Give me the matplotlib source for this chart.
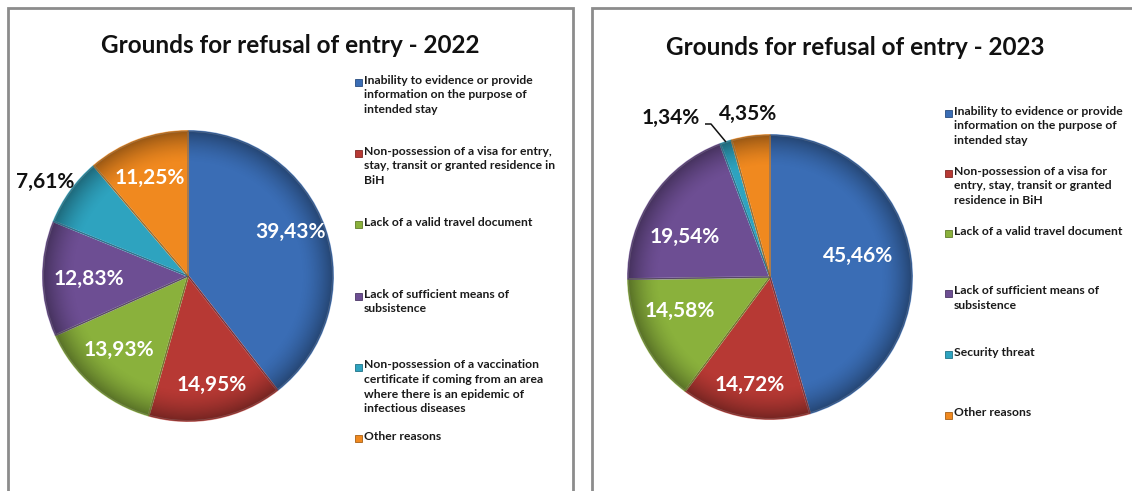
import numpy as np
import matplotlib
matplotlib.use("Agg")
import matplotlib.pyplot as plt
from matplotlib.patches import Rectangle, Circle, Wedge
from matplotlib.colors import to_rgb

W, H = 1132, 491

categories_2022 = [
    "Inability to evidence or provide\ninformation on the purpose of\nintended stay",
    "Non-possession of a visa for entry,\nstay, transit or granted residence in\nBiH",
    "Lack of a valid travel document",
    "Lack of sufficient means of\nsubsistence",
    "Non-possession of a vaccination\ncertificate if coming from an area\nwhere there is an epidemic of\ninfectious diseases",
    "Other reasons",
]
values_2022 = [39.43, 14.95, 13.93, 12.83, 7.61, 11.25]

categories_2023 = [
    "Inability to evidence or provide\ninformation on the purpose of\nintended stay",
    "Non-possession of a visa for\nentry, stay, transit or granted\nresidence in BiH",
    "Lack of a valid travel document",
    "Lack of sufficient means of\nsubsistence",
    "Security threat",
    "Other reasons",
]
values_2023 = [45.46, 14.72, 14.58, 19.54, 1.34, 4.35]

colors = ["#3a6db5", "#b73934", "#8ab13c", "#6d4e93", "#2ea3bf", "#f0891f"]

FONT = "Lato"
plt.rcParams["font.family"] = [FONT, "DejaVu Sans"]

fig = plt.figure(figsize=(W / 100, H / 100), dpi=100)
ax = fig.add_axes([0, 0, 1, 1])
ax.set_xlim(0, W)
ax.set_ylim(0, H)
ax.set_aspect("equal")
ax.axis("off")


def py(y):
    return H - y


def fmt(v):
    return f"{v:.2f}%".replace(".", ",")


def shaded_pie(values, center, radius):
    wedges, _ = ax.pie(values, colors=colors, startangle=90, counterclock=False,
                       center=center, radius=radius, frame=True,
                       wedgeprops=dict(edgecolor="none", linewidth=0))
    # bevel: lighter inner outline on each slice
    for w, c in zip(wedges, colors):
        rgb = np.array(to_rgb(c))
        w.set_edgecolor(tuple(rgb + (1 - rgb) * 0.35))
        w.set_linewidth(1.4)
        w.set_joinstyle("round")
    # radial shading: darker towards the rim
    n = 400
    xs = np.linspace(-1, 1, n)
    X, Y = np.meshgrid(xs, xs)
    R = np.sqrt(X ** 2 + Y ** 2)
    img = np.zeros((n, n, 4))
    img[..., 3] = np.clip((R - 0.78) / 0.22, 0, 1) ** 1.6 * 0.36
    cx, cy = center
    im = ax.imshow(img, extent=(cx - radius, cx + radius, cy - radius, cy + radius),
                   origin="lower", interpolation="bilinear", zorder=3)
    im.set_clip_path(Circle(center, radius, transform=ax.transData))
    # thin darker separators
    for w, c in zip(wedges, colors):
        dark = tuple(np.array(to_rgb(c)) * 0.75)
        ax.add_patch(Wedge(w.center, w.r, w.theta1, w.theta2, facecolor="none",
                           edgecolor=dark, linewidth=0.6, zorder=4))
    ax.set_xlim(0, W)
    ax.set_ylim(0, H)
    ax.axis("off")
    return wedges


def legend(labels, x, ys, fs=8.7):
    for lab, c, y in zip(labels, colors, ys):
        dark = tuple(np.array(to_rgb(c)) * 0.7)
        ax.add_patch(Rectangle((x - 9, py(y) - 3.5), 7, 7, facecolor=c,
                               edgecolor=dark, linewidth=0.6, zorder=5))
        ax.text(x, py(y) + 7.5, lab, fontsize=fs, fontweight="bold",
                color="#1a1a1a", va="top", ha="left", linespacing=1.4, zorder=5)


# panel frames
ax.add_patch(Rectangle((7.5, -5), 565, py(7.5) + 5, facecolor="none",
                       edgecolor="#8c8c8c", linewidth=2, zorder=1))
ax.add_patch(Rectangle((592, -5), 560, py(7.5) + 5, facecolor="none",
                       edgecolor="#8c8c8c", linewidth=2, zorder=1))

# ---- 2022 ----
ax.text(290, py(45), "Grounds for refusal of entry - 2022", fontsize=17.5,
        fontweight="bold", ha="center", va="center", color="#111111")
shaded_pie(values_2022, (188, py(276)), 145)
pos_2022 = [(290, 232), (212, 385), (119, 350), (89, 279), (45, 182), (150, 178)]
txtcol_2022 = ["white", "white", "white", "white", "#111111", "white"]
for v, (x, y), tc in zip(values_2022, pos_2022, txtcol_2022):
    ax.text(x, py(y), fmt(v), fontsize=15, fontweight="bold", color=tc,
            ha="center", va="center", zorder=6)
legend(categories_2022, 364, [82, 153, 224, 296, 367, 438])

# ---- 2023 ----
ax.text(855, py(47), "Grounds for refusal of entry - 2023", fontsize=17.5,
        fontweight="bold", ha="center", va="center", color="#111111")
c23 = (770, py(277))
r23 = 142
w23 = shaded_pie(values_2023, c23, r23)
pos_2023 = [(858, 256), (750, 385), (680, 311), (685, 237), (671, 118), (748, 114)]
txtcol_2023 = ["white", "white", "white", "white", "#111111", "#111111"]
for v, (x, y), tc in zip(values_2023, pos_2023, txtcol_2023):
    ax.text(x, py(y), fmt(v), fontsize=15, fontweight="bold", color=tc,
            ha="center", va="center", zorder=6)
# leader line to the small security-threat slice
sec = w23[4]
mid = np.deg2rad((sec.theta1 + sec.theta2) / 2)
ex, ey = c23[0] + r23 * np.cos(mid), c23[1] + r23 * np.sin(mid)
ax.plot([705, 711, ex], [py(124), py(124), ey], color="#111111", lw=1.1,
        zorder=6, solid_capstyle="butt")
legend(categories_2023, 954, [113, 173, 233, 293, 354, 415])

fig.savefig("out.png", dpi=100, facecolor="white")
